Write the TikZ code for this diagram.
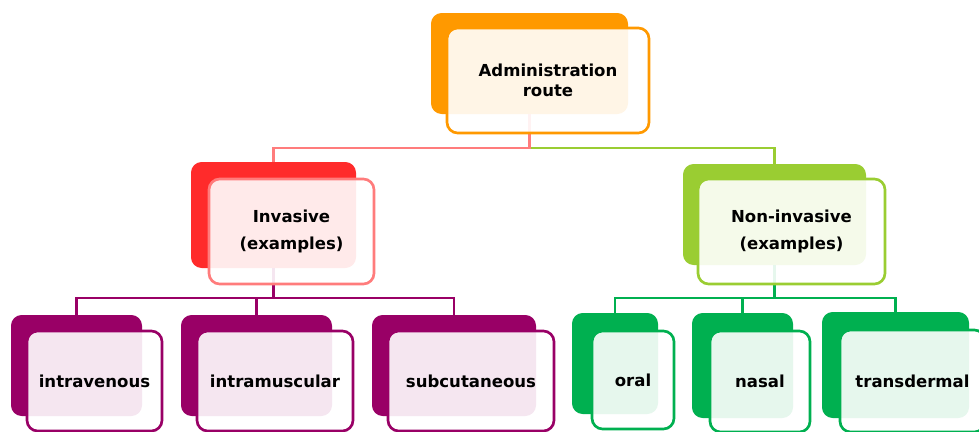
\documentclass[tikz,border=0pt]{standalone}
\usepackage{fontspec}
\setmainfont{DejaVu Sans}
\usepackage{tikz}
\definecolor{routeOrange}{RGB}{255, 153, 0}
\definecolor{invasiveRed}{RGB}{255, 43, 43}
\definecolor{invasiveSalmon}{RGB}{255, 124, 124}
\definecolor{noninvasiveLime}{RGB}{154, 205, 50}
\definecolor{needlePurple}{RGB}{153, 0, 102}
\definecolor{skinGreen}{RGB}{0, 176, 80}

\begin{document}
\begin{tikzpicture}
  [
    x=0.75pt, y=-0.75pt,
    Back/.style={rectangle, rounded corners=8pt, inner sep=0pt},
    Front/.style={rectangle, rounded corners=8pt, fill=white, fill opacity=0.9, text opacity=1, line width=2pt, inner sep=2pt, align=center, font=\bfseries\fontsize{12.4}{20}\selectfont},
    Link/.style={line width=2.2pt}
  ]
  \useasboundingbox (0,0) rectangle (979,432);

  % Back boxes
  \node[Back, fill=routeOrange, minimum width=147.75pt, minimum height=75.75pt] (adminB) at(529.5, 63.5) {};
  \node[Back, fill=invasiveRed, minimum width=123.75pt, minimum height=79.5pt] (invB) at(273.5, 215) {};
  \node[Back, fill=noninvasiveLime, minimum width=137.25pt, minimum height=75.75pt] (noninvB) at(774.5, 214.5) {};
  \node[Back, fill=needlePurple, minimum width=98.25pt, minimum height=75.75pt] (ivB) at(76.5, 365.5) {};
  \node[Back, fill=needlePurple, minimum width=113.25pt, minimum height=75.75pt] (imB) at(256.5, 365.5) {};
  \node[Back, fill=needlePurple, minimum width=123pt, minimum height=75.75pt] (scB) at(454, 365.5) {};
  \node[Back, fill=skinGreen, minimum width=64.5pt, minimum height=75.75pt] (oralB) at(615, 363.5) {};
  \node[Back, fill=skinGreen, minimum width=75.75pt, minimum height=78.75pt] (nasalB) at(742.5, 365.5) {};
  \node[Back, fill=skinGreen, minimum width=110.25pt, minimum height=79.5pt] (tdB) at(895.5, 365) {};

  % Lines
  \coordinate (bus1) at (0, 148);
  \coordinate (bus2) at (0, 298);
  \path [draw, Link, noninvasiveLime] (adminB.south) -- (adminB.south |- bus1) -| (noninvB.north);
  \path [draw, Link, invasiveSalmon] (adminB.south) -- (adminB.south |- bus1) -| (invB.north);
  \path [draw, Link, needlePurple] (invB.south) -- (invB.south |- bus2) -| (ivB.north);
  \path [draw, Link, needlePurple] (invB.south) -- (invB.south |- bus2) -| (imB.north);
  \path [draw, Link, needlePurple] (invB.south) -- (invB.south |- bus2) -| (scB.north);
  \path [draw, Link, skinGreen] (noninvB.south) -- (noninvB.south |- bus2) -| (oralB.north);
  \path [draw, Link, skinGreen] (noninvB.south) -- (noninvB.south |- bus2) -| (nasalB.north);
  \path [draw, Link, skinGreen] (noninvB.south) -- (noninvB.south |- bus2) -| (tdB.north);

  % Front boxes
  \node[Front, draw=routeOrange, minimum width=151.5pt, minimum height=78.75pt, font=\bfseries\fontsize{12.4}{14.5}\selectfont] (admin) at(548, 80.5) {Administration\\route};
  \node[Front, draw=invasiveSalmon, minimum width=123.75pt, minimum height=78.75pt] (inv) at(291.5, 231.5) {Invasive\\(examples)};
  \node[Front, draw=noninvasiveLime, minimum width=140.25pt, minimum height=78.75pt] (noninv) at(791.5, 231.5) {Non-invasive\\(examples)};
  \node[Front, draw=needlePurple, minimum width=101.25pt, minimum height=75pt] (iv) at(94.5, 381) {intravenous};
  \node[Front, draw=needlePurple, minimum width=117pt, minimum height=75pt] (im) at(275, 381) {intramuscular};
  \node[Front, draw=needlePurple, minimum width=124.5pt, minimum height=75pt] (sc) at(471, 381) {subcutaneous};
  \node[Front, draw=skinGreen, minimum width=61.5pt, minimum height=73.5pt] (oral) at(633, 380) {oral};
  \node[Front, draw=skinGreen, minimum width=75pt, minimum height=75.75pt] (nasal) at(760, 381.5) {nasal};
  \node[Front, draw=skinGreen, minimum width=108.75pt, minimum height=76.5pt] (td) at(912.5, 381) {transdermal};

\end{tikzpicture}
\end{document}
